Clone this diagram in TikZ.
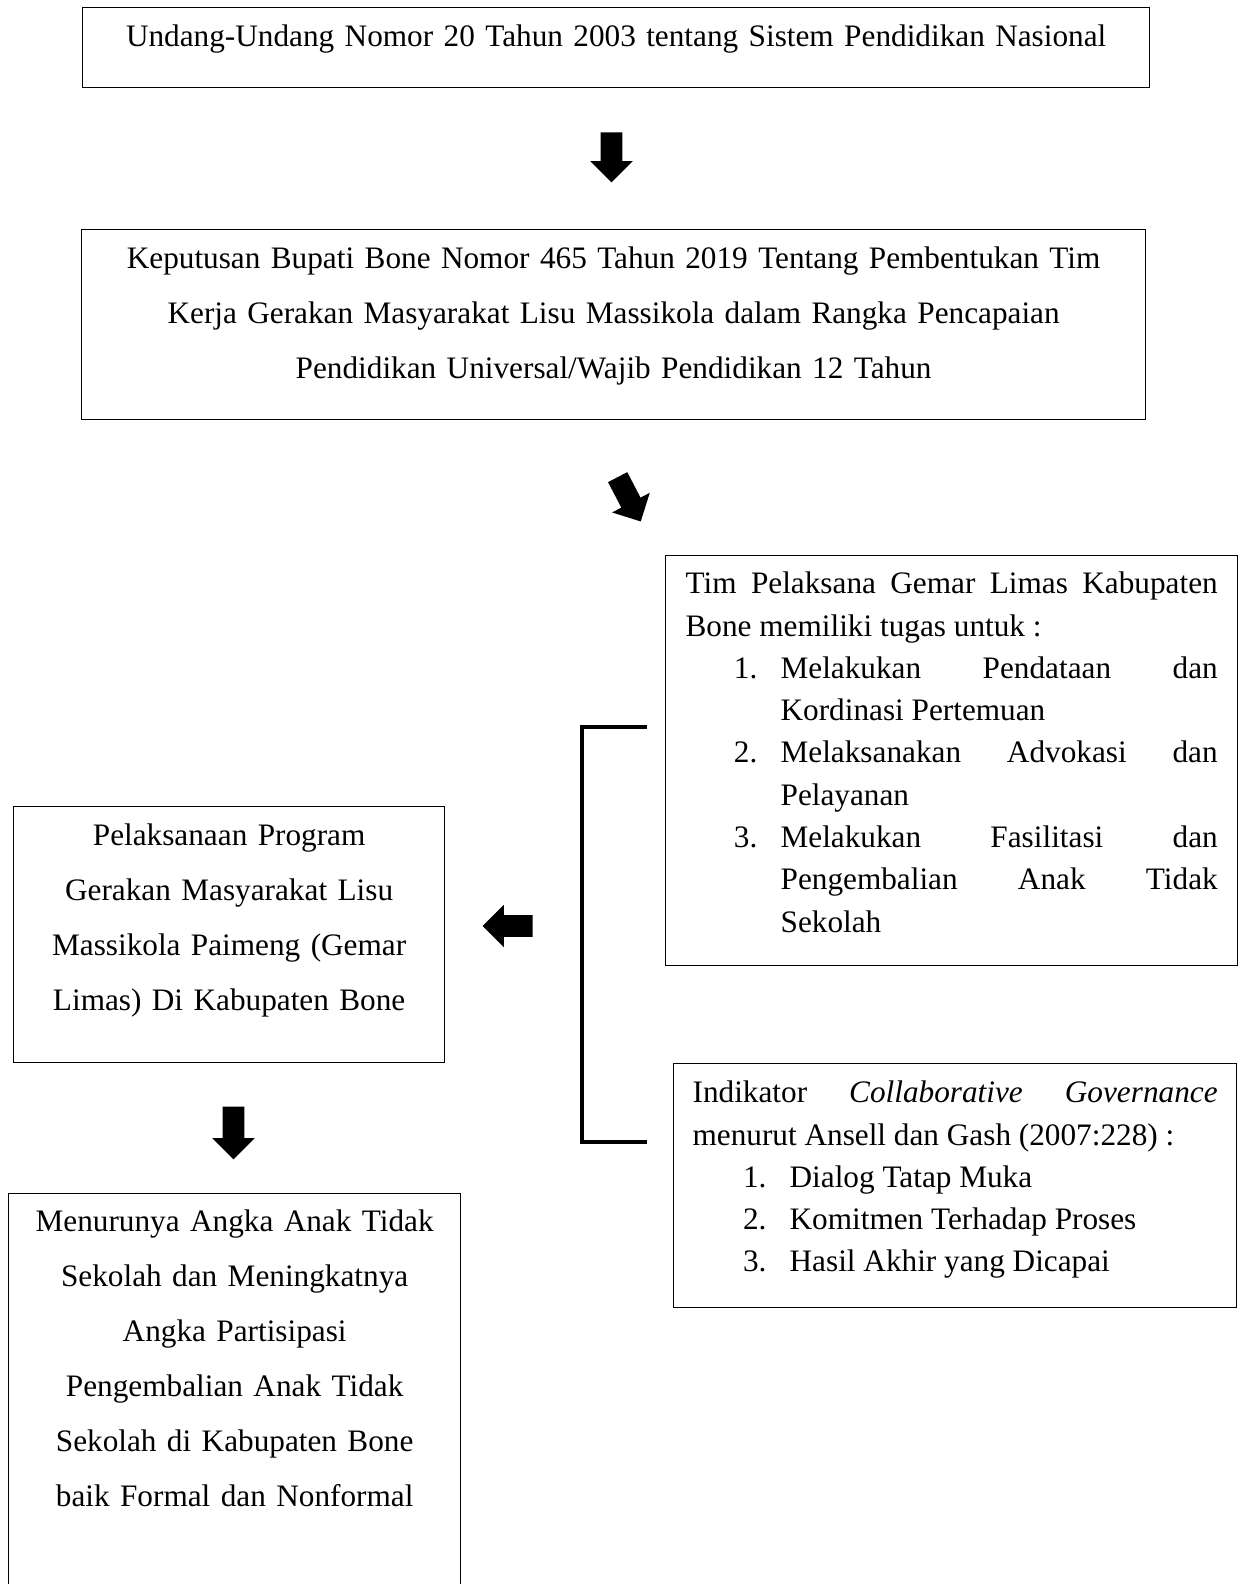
\documentclass[tikz,border=0pt]{standalone}
\usepackage{fontspec}
\setmainfont{Liberation Serif}
\usetikzlibrary{shapes.arrows,positioning}
\newcommand{\itemno}[1]{\leavevmode\llap{\makebox[22.4pt][l]{#1}}}

\begin{document}
\begin{tikzpicture}[x=0.48pt, y=-0.48pt,
                    mybox/.style={draw, line width=0.6pt, anchor=north west, inner xsep=0pt, inner ysep=0pt,
                                  align=center, font=\fontsize{15pt}{26.4pt}\selectfont},
                    mylist/.style={mybox, align=justify, font=\fontsize{15pt}{20.3pt}\selectfont},
                    myarrow/.style={single arrow, fill=black, draw=none, inner xsep=0pt, inner ysep=5pt,
                                    minimum height=24pt, minimum width=20.2pt, anchor=tip,
                                    single arrow head extend=5pt, single arrow head indent=0pt},
                    mybracket/.style={line width=1.6pt, black},
                   ]

\useasboundingbox (0,0) rectangle (1240,1584);

% boxes
\node[mybox, text width=512.2pt, text height=18.8pt, text depth=19.6pt] (uu) at (82,7)
  {Undang-Undang Nomor 20 Tahun 2003 tentang Sistem Pendidikan Nasional};

\node[mybox, text width=510.7pt, text height=18.8pt, text depth=72.4pt] (kep) at (81,229)
  {Keputusan Bupati Bone Nomor 465 Tahun 2019 Tentang Pembentukan Tim\\
   Kerja Gerakan Masyarakat Lisu Massikola dalam Rangka Pencapaian\\
   Pendidikan Universal/Wajib Pendidikan 12 Tahun};

\node[mylist, text width=255.4pt, inner xsep=9.6pt, text height=18.3pt, text depth=178.5pt] (tim) at (665,555)
  {Tim Pelaksana Gemar Limas Kabupaten\linebreak Bone memiliki tugas untuk :\par
   {\leftskip=45.6pt
   \itemno{1.}Melakukan Pendataan dan\linebreak Kordinasi Pertemuan\par
   \itemno{2.}Melaksanakan Advokasi dan\linebreak Pelayanan\par
   \itemno{3.}Melakukan Fasilitasi dan\linebreak Pengembalian Anak Tidak\linebreak Sekolah\par}};

\node[mybox, text width=206.9pt, text height=18.8pt, text depth=104.1pt] (plk) at (13,806)
  {Pelaksanaan Program\\ Gerakan Masyarakat Lisu\\ Massikola Paimeng (Gemar\\ Limas) Di Kabupaten Bone};

\node[mylist, text width=252pt, inner xsep=9.1pt, text height=18.8pt, text depth=98.4pt] (ind) at (673,1063)
  {Indikator \textit{Collaborative Governance}\linebreak menurut Ansell dan Gash (2007:228) :\par
   {\leftskip=46.6pt
   \itemno{1.}Dialog Tatap Muka\par
   \itemno{2.}Komitmen Terhadap Proses\par
   \itemno{3.}Hasil Akhir yang Dicapai\par}};

\node[mybox, text width=217pt, text height=18.3pt, text depth=171.3pt] (hsl) at (8,1193)
  {Menurunya Angka Anak Tidak\\ Sekolah dan Meningkatnya\\ Angka Partisipasi\\
   Pengembalian Anak Tidak\\ Sekolah di Kabupaten Bone\\ baik Formal dan Nonformal};

% block arrows
\node[myarrow, rotate=-90] (a1) at (611.5,183) {};
\node[myarrow, rotate=-62.5] (a2) at (641,522) {};
\node[myarrow, rotate=180] (a3) at (482,926) {};
\node[myarrow, rotate=-90, minimum height=25.4pt] (a4) at (233.5,1160) {};

% bracket
\coordinate (brtop) at (647,727);
\coordinate (brbot) at (647,1142);
\draw[mybracket] (brtop) -- ++(-65,0) |- (brbot);

\end{tikzpicture}
\end{document}
